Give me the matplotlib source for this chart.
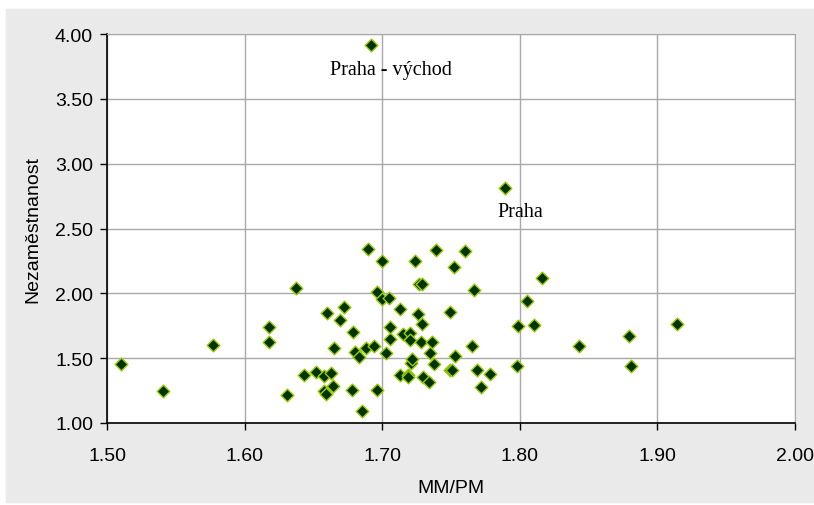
import matplotlib.pyplot as plt
from matplotlib.patches import Rectangle

# MM/PM vs. unemployment, one point per district (okres)
mm_pm = [1.692, 1.789, 1.510, 1.541, 1.577, 1.618, 1.618, 1.631, 1.637, 1.643,
         1.652, 1.658, 1.663, 1.658, 1.659, 1.664, 1.660, 1.665, 1.672, 1.669,
         1.679, 1.680, 1.683, 1.678, 1.685, 1.688, 1.690, 1.694, 1.696, 1.700,
         1.700, 1.705, 1.696, 1.703, 1.706, 1.706, 1.713, 1.715, 1.720, 1.720,
         1.713, 1.719, 1.719, 1.721, 1.722, 1.724, 1.726, 1.727, 1.729, 1.729,
         1.728, 1.730, 1.734, 1.735, 1.736, 1.738, 1.739, 1.760, 1.752, 1.767,
         1.816, 1.805, 1.799, 1.810, 1.914, 1.749, 1.765, 1.753, 1.749, 1.751,
         1.769, 1.778, 1.772, 1.798, 1.843, 1.879, 1.881]
nezam = [3.918, 2.810, 1.455, 1.249, 1.604, 1.738, 1.622, 1.217, 2.039, 1.372,
         1.394, 1.362, 1.383, 1.247, 1.224, 1.288, 1.848, 1.576, 1.892, 1.792,
         1.700, 1.546, 1.509, 1.255, 1.095, 1.576, 2.342, 1.596, 2.010, 2.251,
         1.959, 1.965, 1.255, 1.542, 1.648, 1.738, 1.879, 1.683, 1.693, 1.641,
         1.371, 1.370, 1.355, 1.461, 1.496, 2.251, 1.840, 2.072, 2.072, 1.761,
         1.622, 1.355, 1.320, 1.541, 1.622, 1.455, 2.334, 2.324, 2.204, 2.025,
         2.118, 1.943, 1.745, 1.756, 1.766, 1.854, 1.593, 1.519, 1.409, 1.409,
         1.411, 1.377, 1.280, 1.439, 1.591, 1.668, 1.438]

labels = ["Praha - východ", "Praha"]
label_pos = [(1.662, 3.73), (1.784, 2.63)]

xticks = [1.5, 1.6, 1.7, 1.8, 1.9, 2.0]
yticks = [1.0, 1.5, 2.0, 2.5, 3.0, 3.5, 4.0]

plt.rcParams['font.family'] = ['Liberation Sans', 'DejaVu Sans']

fig = plt.figure(figsize=(8.14, 5.06), dpi=100)
bg = Rectangle((6/814, 0.006), 1, 1 - 10/506 - 0.006,
               transform=fig.transFigure, color='#eaeaea', zorder=-10)
fig.add_artist(bg)

ax = fig.add_axes([107/814, 1 - 424/506, 688/814, 389/506])
ax.set_zorder(1)
ax.set_facecolor('white')
ax.scatter(mm_pm, nezam, marker='D', s=42, c='#003300',
           edgecolors='#99cc00', linewidths=1.0, zorder=3)

for txt, (tx, ty) in zip(labels, label_pos):
    ax.text(tx, ty, txt, family='Liberation Serif', fontsize=14.5,
            ha='left', va='center', zorder=4)

ax.set_xlim(1.5, 2.0)
ax.set_ylim(1.0, 4.0)
ax.set_xticks(xticks)
ax.set_yticks(yticks)
ax.set_xticklabels(['%.2f' % v for v in xticks])
ax.set_yticklabels(['%.2f' % v for v in yticks])
ax.grid(True, color='#a8a8a8', linewidth=1.0)
ax.set_axisbelow(True)

for s in ['top', 'right']:
    ax.spines[s].set_color('#a8a8a8')
for s in ['left', 'bottom']:
    ax.spines[s].set_color('black')
    ax.spines[s].set_linewidth(1.2)

ax.tick_params(direction='out', length=5, width=1, labelsize=14)
ax.tick_params(axis='x', pad=12)
ax.tick_params(axis='y', pad=5)
ax.set_xlabel('MM/PM', fontsize=14, labelpad=11)
ax.set_ylabel('Nezaměstnanost', fontsize=14, labelpad=10)

fig.savefig('out.png', dpi=100)
